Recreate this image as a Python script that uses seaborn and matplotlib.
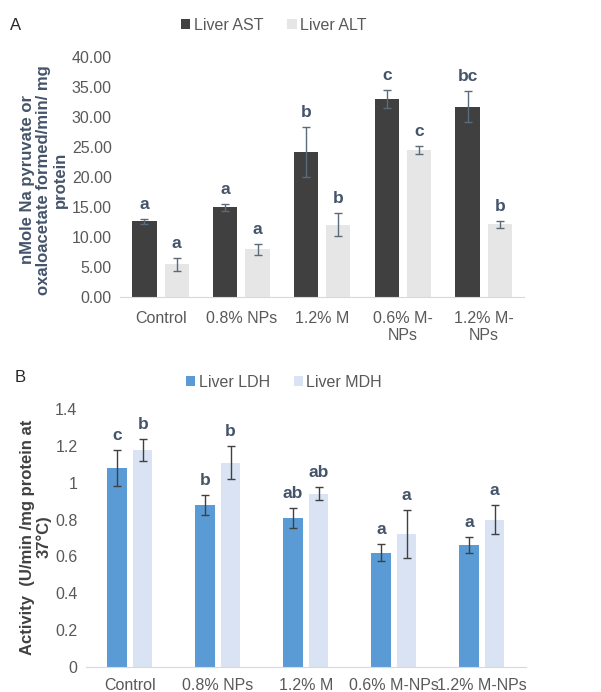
import pandas as pd
import seaborn as sns
import matplotlib.pyplot as plt

sns.set_style("white")
plt.rcParams['font.family'] = ['Liberation Sans', 'DejaVu Sans']

groups = ["Control", "0.8% NPs", "1.2% M", "0.6% M-NPs", "1.2% M-NPs"]
labels_a = ["Control", "0.8% NPs", "1.2% M", "0.6% M-\nNPs", "1.2% M-\nNPs"]

# panel A
ast = [12.6, 14.95, 24.1, 32.9, 31.7]
ast_err = [0.45, 0.6, 4.2, 1.5, 2.6]
ast_let = ["a", "a", "b", "c", "bc"]
alt = [5.45, 7.95, 12.0, 24.5, 12.1]
alt_err = [1.1, 0.9, 1.9, 0.65, 0.6]
alt_let = ["a", "a", "b", "c", "b"]

# panel B
ldh = [1.08, 0.88, 0.81, 0.62, 0.66]
ldh_err = [0.10, 0.055, 0.055, 0.045, 0.044]
ldh_let = ["c", "b", "ab", "a", "a"]
mdh = [1.18, 1.11, 0.94, 0.72, 0.80]
mdh_err = [0.06, 0.09, 0.036, 0.13, 0.08]
mdh_let = ["b", "b", "ab", "a", "a"]

txt = "#44546a"
tick_c = "#595959"


def panel(ax, names, vals, errs, lets, colors, width, gap, ecol):
    df = pd.concat([pd.DataFrame({"group": groups, "value": v, "series": n})
                    for n, v in zip(names, vals)])
    sns.barplot(ax=ax, data=df, x="group", y="value", hue="series",
                palette=colors, errorbar=None, width=width, gap=gap,
                saturation=1, linewidth=0)
    for cont, err, let in zip(ax.containers, errs, lets):
        xs = [b.get_x() + b.get_width() / 2 for b in cont]
        ys = [b.get_height() for b in cont]
        ax.errorbar(xs, ys, yerr=err, fmt="none", ecolor=ecol,
                    elinewidth=1, capsize=3, capthick=1)
        for x, y, e, l in zip(xs, ys, err, let):
            ax.annotate(l, (x, y + e), xytext=(0, 5), textcoords="offset points",
                        ha="center", va="bottom", fontsize=12.5,
                        fontweight="bold", color=txt)
    sns.despine(ax=ax, left=True)
    ax.spines["bottom"].set_color("#d9d9d9")
    ax.tick_params(axis="y", length=0, labelsize=11.5, colors=tick_c, pad=6)
    ax.tick_params(axis="x", length=0, labelsize=11.5, colors=tick_c, pad=10)
    ax.set_xlabel("")
    ax.set_ylabel("")
    ax.legend(loc="lower center", bbox_to_anchor=(0.5, 1.0), ncol=2,
              frameon=False, fontsize=11.5, handlelength=0.6,
              handleheight=0.6, handletextpad=0.2, columnspacing=1.5,
              labelcolor=tick_c)


fig = plt.figure(figsize=(6.01, 6.92), dpi=100)

ax1 = fig.add_axes([0.2, 0.571, 0.672, 0.347])
panel(ax1, ["Liver AST", "Liver ALT"], [ast, alt], [ast_err, alt_err],
      [ast_let, alt_let], ["#404040", "#e6e6e6"], 0.8, 0.25, "#5a6b7c")
ax1.set_ylim(0, 40)
ax1.set_xlim(-0.5, 4.5)
ax1.set_yticks(range(0, 41, 5))
ax1.set_yticklabels([f"{v:.2f}" for v in range(0, 41, 5)])
ax1.set_xticks(range(5))
ax1.set_xticklabels(labels_a, linespacing=1.15)
ax1.get_legend().set_bbox_to_anchor((0.38, 1.04))

ax2 = fig.add_axes([0.143, 0.0366, 0.732, 0.372])
panel(ax2, ["Liver LDH", "Liver MDH"], [ldh, mdh], [ldh_err, mdh_err],
      [ldh_let, mdh_let], ["#5b9bd5", "#dae3f3"], 0.58, 0.24, "#404040")
ax2.tick_params(axis="x", pad=8)
ax2.set_ylim(0, 1.4)
ax2.set_xlim(-0.5, 4.5)
yt = [0, 0.2, 0.4, 0.6, 0.8, 1, 1.2, 1.4]
ax2.set_yticks(yt)
ax2.set_yticklabels([f"{v:g}" for v in yt])
ax2.get_legend().set_bbox_to_anchor((0.45, 1.02))

fig.text(44 / 601, 1 - 180 / 692, "nMole Na pyruvate or\noxaloacetate formed/min/ mg\nprotein",
         rotation=90, ha="center", va="center", fontsize=12,
         fontweight="bold", color=txt, linespacing=1.1)
fig.text(36 / 601, 1 - 537 / 692, "Activity  (U/min /mg protein at\n37°C)",
         rotation=90, ha="center", va="center", fontsize=12,
         fontweight="bold", color="#404040", linespacing=1.05)
fig.text(10 / 601, 1 - 25 / 692, "A", fontsize=12, va="center")
fig.text(15 / 601, 1 - 378 / 692, "B", fontsize=12, va="center")

fig.savefig("out.png", dpi=100)
